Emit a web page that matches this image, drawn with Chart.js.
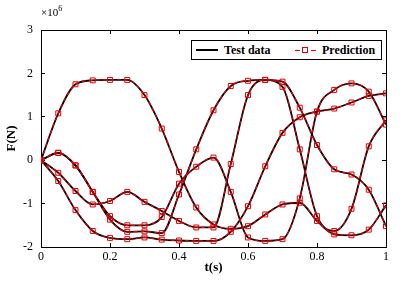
<!DOCTYPE html>
<html>
<head>
<meta charset="utf-8">
<script src="https://cdn.jsdelivr.net/npm/chart.js@4"></script>
<style>
  html, body { margin: 0; padding: 0; background: #fff; }
  #wrap { position: relative; width: 407px; height: 281px; }
  #scale { position: absolute; left: 41px; top: 4px; font: 11px 'Liberation Serif', serif; color: #000; }
  #scale sup { font-size: 8px; }
  #legend { position: absolute; left: 191px; top: 40px; width: 189px; height: 18px; border: 1px solid #000; background: #fff;
    font: bold 12px 'Liberation Serif', serif; line-height: 18px; white-space: nowrap; }
  .ln { position: absolute; height: 0; }
  .blk { top: 8px; left: 4px; width: 22px; border-top: 2px solid #000; }
  .red { top: 9px; width: 5px; border-top: 1.2px solid #e60000; }
  .sq { position: absolute; top: 6px; left: 110px; width: 4px; height: 4px; border: 1px solid #e60000; }
</style>
</head>
<body>
<div id="wrap">
  <canvas id="c" width="407" height="281"></canvas>
  <div id="scale">&times;10<sup>6</sup></div>
  <div id="legend">
    <span class="ln blk"></span><span style="position:absolute;left:32px">Test data</span>
    <span class="ln red" style="left:103px"></span><span class="sq"></span><span class="ln red" style="left:119px"></span>
    <span style="position:absolute;left:130px">Prediction</span>
  </div>
</div>
<script>
var T = [0, 0.05, 0.1, 0.15, 0.2, 0.25, 0.3, 0.35, 0.4, 0.45, 0.5, 0.55, 0.6, 0.65, 0.7, 0.75, 0.8, 0.85, 0.9, 0.95, 1];

// force curves, x1e6 N
var F1 = [0, 1.08, 1.75, 1.84, 1.85, 1.85, 1.5, 0.73, -0.27, -1.09, -1.48, -1.58, -1.52, -1.25, -1.02, -0.98, -1.4, -1.71, -1.73, -1.6, -1.04];
var F2 = [0, 0.17, -0.12, -0.73, -1.29, -1.5, -1.5, -1.31, -0.54, -0.15, 0.06, -0.73, -1.78, -1.86, -1.82, -0.88, 1.12, 1.62, 1.77, 1.58, 0.82];
var F3 = [0, -0.29, -0.71, -1.02, -0.94, -0.73, -0.96, -1.17, -1.4, -1.55, -1.55, -0.09, 1.5, 1.85, 1.69, 0.25, -1.29, -1.63, -1.12, 0.32, 0.92];
var F4 = [0, -0.48, -1.15, -1.63, -1.79, -1.82, -1.78, -1.83, -1.85, -1.86, -1.86, -1.65, -1.06, -0.14, 0.63, 0.99, 1.12, 1.19, 1.33, 1.48, 1.54];
var F5 = [0, 0.17, -0.12, -0.73, -1.37, -1.65, -1.64, -1.68, -0.79, 0.25, 1.15, 1.71, 1.83, 1.85, 1.81, 1.21, 0.35, -0.21, -0.33, -0.68, -1.52];
var SERIES = [F1, F2, F3, F4, F5];

var X_TICKS = [0, 0.2, 0.4, 0.6, 0.8, 1];
var X_LABELS = ['0', '0.2', '0.4', '0.6', '0.8', '1'];

function pts(arr) {
  var out = [];
  for (var i = 0; i < T.length; i++) out.push({ x: T[i], y: arr[i] });
  return out;
}

var datasets = [];
// prediction first so it is drawn on top of the test data
for (var i = 0; i < SERIES.length; i++) {
  datasets.push({
    label: 'Prediction',
    data: pts(SERIES[i]),
    borderColor: '#e60000',
    borderWidth: 1.2,
    borderDash: [4, 3],
    backgroundColor: 'rgba(0,0,0,0)',
    pointStyle: 'rect',
    pointRadius: 3.5,
    pointBorderColor: '#e60000',
    pointBorderWidth: 1,
    pointBackgroundColor: 'rgba(0,0,0,0)',
    cubicInterpolationMode: 'monotone',
  });
}
for (var i = 0; i < SERIES.length; i++) {
  datasets.push({
    label: 'Test data',
    data: pts(SERIES[i]),
    borderColor: '#000',
    borderWidth: 1.8,
    pointRadius: 0,
    cubicInterpolationMode: 'monotone',
  });
}

var serif = "'Liberation Serif', serif";
var tickFont = { family: serif, size: 12 };

new Chart(document.getElementById('c'), {
  type: 'line',
  data: { datasets: datasets },
  options: {
    responsive: false,
    animation: false,
    layout: { padding: { top: 30, right: 21, left: 0, bottom: 0 } },
    plugins: { legend: { display: false }, tooltip: { enabled: false } },
    scales: {
      x: {
        type: 'linear', position: 'bottom', min: 0, max: 1,
        afterBuildTicks: function (s) { s.ticks = X_TICKS.map(function (v) { return { value: v }; }); },
        afterFit: function (s) { s.height = 281 - 247; },
        ticks: { color: '#000', font: tickFont, padding: 7, maxRotation: 0,
          callback: function (v, i) { return X_LABELS[i]; } },
        grid: { drawOnChartArea: false, tickLength: -4, color: '#000' },
        border: { color: '#000', width: 1 },
        title: { display: true, text: 't(s)', color: '#000', font: { family: serif, size: 13, weight: 'bold' }, padding: { top: 0, bottom: 6 } },
      },
      x2: {
        type: 'linear', position: 'top', min: 0, max: 1,
        afterBuildTicks: function (s) { s.ticks = X_TICKS.map(function (v) { return { value: v }; }); },
        afterFit: function (s) { s.height = 0; },
        ticks: { display: false },
        grid: { drawOnChartArea: false, tickLength: -4, color: '#000' },
        border: { color: '#000', width: 1 },
      },
      y: {
        min: -2, max: 3,
        afterFit: function (s) { s.width = 41; },
        ticks: { stepSize: 1, color: '#000', font: tickFont, padding: 12 },
        grid: { drawOnChartArea: false, tickLength: -4, color: '#000' },
        border: { color: '#000', width: 1 },
        title: { display: true, text: 'F(N)', color: '#000', font: { family: serif, size: 13, weight: 'bold' }, padding: { top: 4, bottom: 0 } },
      },
      y2: {
        position: 'right', min: -2, max: 3,
        afterFit: function (s) { s.width = 0; },
        ticks: { display: false, stepSize: 1 },
        grid: { drawOnChartArea: false, tickLength: -4, color: '#000' },
        border: { color: '#000', width: 1 },
      },
    },
  },
});
</script>
</body>
</html>
